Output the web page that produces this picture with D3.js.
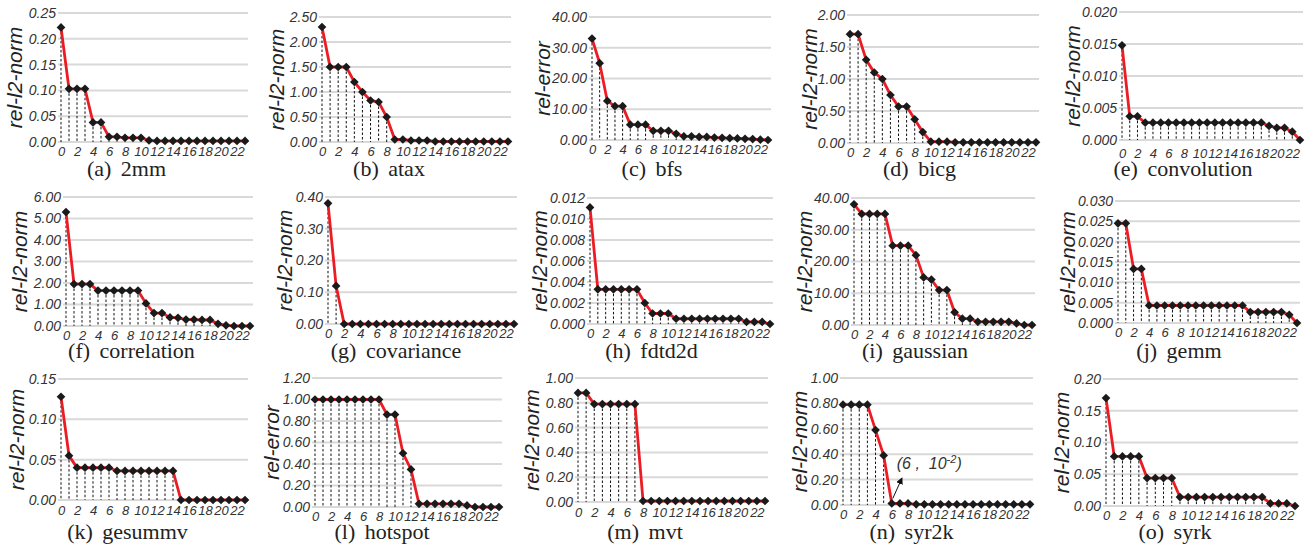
<!DOCTYPE html>
<html lang="en">
<head>
<meta charset="utf-8">
<title>Error per step</title>
<script src="https://cdn.jsdelivr.net/npm/d3@7"></script>
<style>
body { margin: 0; background: #fff; }
svg text { font-family: "Liberation Sans", Arial, sans-serif; }
</style>
</head>
<body>
<script>
// --- data ---
var names   = ["2mm", "atax", "bfs", "bicg", "convolution", "correlation", "covariance", "fdtd2d",
               "gaussian", "gemm", "gesummv", "hotspot", "mvt", "syr2k", "syrk"];
var letters = ["a", "b", "c", "d", "e", "f", "g", "h", "i", "j", "k", "l", "m", "n", "o"];
var yTitles = ["rel-l2-norm", "rel-l2-norm", "rel-error", "rel-l2-norm", "rel-l2-norm",
               "rel-l2-norm", "rel-l2-norm", "rel-l2-norm", "rel-l2-norm", "rel-l2-norm",
               "rel-l2-norm", "rel-error", "rel-l2-norm", "rel-l2-norm", "rel-l2-norm"];
var yMax    = [0.25, 2.5, 40, 2, 0.02, 6, 0.4, 0.012, 40, 0.03, 0.15, 1.2, 1, 1, 0.2];
var yStep   = [0.05, 0.5, 10, 0.5, 0.005, 1, 0.1, 0.002, 10, 0.005, 0.05, 0.2, 0.2, 0.2, 0.05];
var yDigits = [2, 2, 2, 2, 3, 2, 2, 3, 2, 3, 2, 2, 2, 2, 2];
var xTicks  = [0, 2, 4, 6, 8, 10, 12, 14, 16, 18, 20, 22];
var steps   = d3.range(24);

var v2mm     = [0.222,0.103,0.103,0.103,0.038,0.038,0.010,0.010,0.008,0.008,0.008,0.003,0.002,0.002,0.002,0.002,0.002,0.002,0.002,0.002,0.002,0.002,0.002,0.002];
var vAtax    = [2.30,1.50,1.50,1.50,1.20,1.00,0.83,0.80,0.50,0.05,0.05,0.03,0.03,0.03,0.01,0.01,0.01,0.01,0.01,0.01,0.01,0.01,0.01,0.01];
var vBfs     = [33,25,12.7,11,11,5,5,5,3,3,3,2,1.2,1.2,1,1,0.8,0.7,0.6,0.5,0.4,0.3,0.1,0];
var vBicg    = [1.70,1.70,1.30,1.10,1.00,0.75,0.57,0.57,0.37,0.17,0.02,0.02,0.02,0.01,0.01,0.01,0.01,0.01,0.01,0.01,0.01,0.01,0.01,0.01];
var vConv    = [0.0148,0.0037,0.0037,0.0027,0.0027,0.0027,0.0027,0.0027,0.0027,0.0027,0.0027,0.0027,0.0027,0.0027,0.0027,0.0027,0.0027,0.0027,0.0027,0.0022,0.0019,0.0019,0.0013,0];
var vCorr    = [5.3,1.95,1.95,1.95,1.65,1.65,1.65,1.65,1.65,1.65,1.05,0.6,0.6,0.4,0.38,0.3,0.3,0.28,0.28,0.1,0.03,0,0,0];
var vCov     = [0.38,0.12,0,0,0,0,0,0,0,0,0,0,0,0,0,0,0,0,0,0,0,0,0,0];
var vFdtd    = [0.0111,0.0033,0.0033,0.0033,0.0033,0.0033,0.0033,0.002,0.001,0.001,0.001,0.0005,0.0005,0.0005,0.0005,0.0005,0.0005,0.0005,0.0005,0.0005,0.0002,0.0002,0.0002,0];
var vGauss   = [38,35,35,35,35,25,25,25,22,15,14.3,11,11,4,2,2,1,1,1,1,1,0.5,0,0];
var vGemm    = [0.0245,0.0245,0.0133,0.0133,0.0043,0.0043,0.0043,0.0043,0.0043,0.0043,0.0043,0.0043,0.0043,0.0043,0.0043,0.0043,0.0043,0.0027,0.0027,0.0027,0.0027,0.0027,0.002,0];
var vGesummv = [0.128,0.055,0.04,0.04,0.04,0.04,0.04,0.036,0.036,0.036,0.036,0.036,0.036,0.036,0.036,0,0,0,0,0,0,0,0,0];
var vHotspot = [1,1,1,1,1,1,1,1,1,0.86,0.86,0.5,0.35,0.03,0.03,0.03,0.03,0.03,0.03,0.015,0,0,0,0];
var vMvt     = [0.88,0.88,0.79,0.79,0.79,0.79,0.79,0.79,0.008,0.008,0.008,0.008,0.008,0.008,0.008,0.008,0.008,0.008,0.008,0.008,0.008,0.008,0.008,0.008];
var vSyr2k   = [0.79,0.79,0.79,0.79,0.59,0.39,0.012,0.012,0.012,0.005,0.005,0.005,0.005,0.005,0.005,0.005,0.005,0.005,0.005,0.005,0.005,0.005,0.005,0.005];
var vSyrk    = [0.17,0.078,0.078,0.078,0.078,0.044,0.044,0.044,0.044,0.014,0.014,0.014,0.014,0.014,0.014,0.014,0.014,0.014,0.014,0.014,0.004,0.004,0.004,0];

var series = [v2mm, vAtax, vBfs, vBicg, vConv, vCorr, vCov, vFdtd, vGauss, vGemm, vGesummv, vHotspot, vMvt, vSyr2k, vSyrk];

// --- layout: [first step x, last step x, top tick y, zero y, y title x, x label drop] ---
var boxes = [
  [61, 245, 13, 142, 15, 5],   [322, 508, 17, 142, 277, 5], [592, 768, 17, 140, 543, 5], [850, 1036, 15, 143, 810, 5], [1122, 1300, 12, 140, 1073, 9],
  [66, 250, 197, 326, 20, 5],  [328, 514, 197, 324, 285, 5], [590, 770, 198, 324, 540, 5], [854, 1032, 198, 325, 805, 5], [1118, 1297, 201, 323, 1068, 5],
  [61, 245, 379, 500, 17, 6],  [315, 499, 378, 507, 272, 5], [578, 765, 378, 502, 532, 6], [843, 1030, 378, 505, 800, 5], [1106, 1295, 379, 506, 1062, 5]
];
var captionY = [176, 358, 539];

var svg = d3.select("body").append("svg").attr("width", 1308).attr("height", 548);

svg.append("defs").append("marker")
  .attr("id", "arrow").attr("viewBox", "0 0 10 10").attr("refX", 8).attr("refY", 5)
  .attr("markerWidth", 7).attr("markerHeight", 7).attr("orient", "auto")
  .append("path").attr("d", "M0,0 L10,5 L0,10 Z").attr("fill", "#111");

var diamond = d3.symbol().type(d3.symbolSquare).size(38);

series.forEach(function(vals, k) {
  var b = boxes[k];
  var row = Math.floor(k / 5);
  var g = svg.append("g");

  var x = d3.scaleLinear().domain([0, 23]).range([b[0], b[1]]);
  var y = d3.scaleLinear().domain([0, yMax[k]]).range([b[3], b[2]]);
  var yTicks = d3.range(0, yMax[k] + yStep[k] / 2, yStep[k]);

  // grid
  g.selectAll("line.grid").data(yTicks).join("line")
    .attr("class", "grid")
    .attr("x1", x(0) - 3).attr("x2", x(23) + 3)
    .attr("y1", function(d) { return y(d); }).attr("y2", function(d) { return y(d); })
    .attr("stroke", "#d9d9d9").attr("stroke-width", 2);

  // y axis labels
  var ya = g.append("g").attr("transform", "translate(" + (x(0) - 5) + ",0)")
    .call(d3.axisLeft(y).tickValues(yTicks).tickSize(0).tickPadding(0)
      .tickFormat(d3.format("." + yDigits[k] + "f")));
  ya.select(".domain").remove();
  ya.selectAll("text").attr("font-size", 14).attr("font-style", "italic")
    .attr("fill", "#333").style("font-family", "'Liberation Sans', Arial, sans-serif");

  // x axis labels (tight, like the figure)
  var xa = g.append("g").attr("transform", "translate(0," + y(0) + ")")
    .call(d3.axisBottom(x).tickValues(xTicks).tickSize(0).tickPadding(b[5]));
  xa.select(".domain").remove();
  xa.selectAll("text").attr("font-size", 13).attr("font-style", "italic")
    .attr("fill", "#333").style("font-family", "'Liberation Sans', Arial, sans-serif");

  // dotted drop lines
  g.selectAll("line.drop").data(steps).join("line")
    .attr("class", "drop")
    .attr("x1", function(i) { return x(i); }).attr("x2", function(i) { return x(i); })
    .attr("y1", function(i) { return y(vals[i]); }).attr("y2", y(0))
    .attr("stroke", "#111").attr("stroke-width", 1).attr("stroke-dasharray", "2.5,2");

  // red line
  g.append("path").datum(steps)
    .attr("d", d3.line().x(function(i) { return x(i); }).y(function(i) { return y(vals[i]); }))
    .attr("fill", "none").attr("stroke", "#ec1c24").attr("stroke-width", 2.8);

  // markers
  g.selectAll("path.pt").data(steps).join("path")
    .attr("class", "pt")
    .attr("d", diamond)
    .attr("transform", function(i) { return "translate(" + x(i) + "," + y(vals[i]) + ") rotate(45)"; })
    .attr("fill", "#1a1a1a");

  // y title
  g.append("text")
    .attr("transform", "translate(" + b[4] + "," + ((b[2] + b[3]) / 2) + ") rotate(-90)")
    .attr("text-anchor", "middle").attr("dy", "0.35em")
    .attr("font-size", 21).attr("font-style", "italic").attr("fill", "#222")
    .text(yTitles[k]);

  // caption
  g.append("text")
    .attr("x", (b[4] - 10 + x(23) + 3) / 2).attr("y", captionY[row])
    .attr("text-anchor", "middle")
    .attr("font-size", 22).attr("fill", "#222").attr("word-spacing", "4px")
    .style("font-family", "'Liberation Serif', 'Times New Roman', serif")
    .text("(" + letters[k] + ") " + names[k]);

  // note on syr2k
  if (names[k] === "syr2k") {
    var px = x(6), py = y(vals[6]);
    g.append("line")
      .attr("x1", px + 1).attr("y1", py - 5).attr("x2", px + 10).attr("y2", py - 25)
      .attr("stroke", "#111").attr("stroke-width", 1).attr("marker-end", "url(#arrow)");
    var t = g.append("text").attr("x", px + 5).attr("y", py - 34)
      .attr("font-size", 16).attr("font-style", "italic").attr("fill", "#333");
    t.append("tspan").attr("xml:space", "preserve").text("(6 ,  10");
    t.append("tspan").attr("dy", -6).attr("font-size", 11).text("-2");
    t.append("tspan").attr("dy", 6).text(")");
  }
});
</script>
</body>
</html>
